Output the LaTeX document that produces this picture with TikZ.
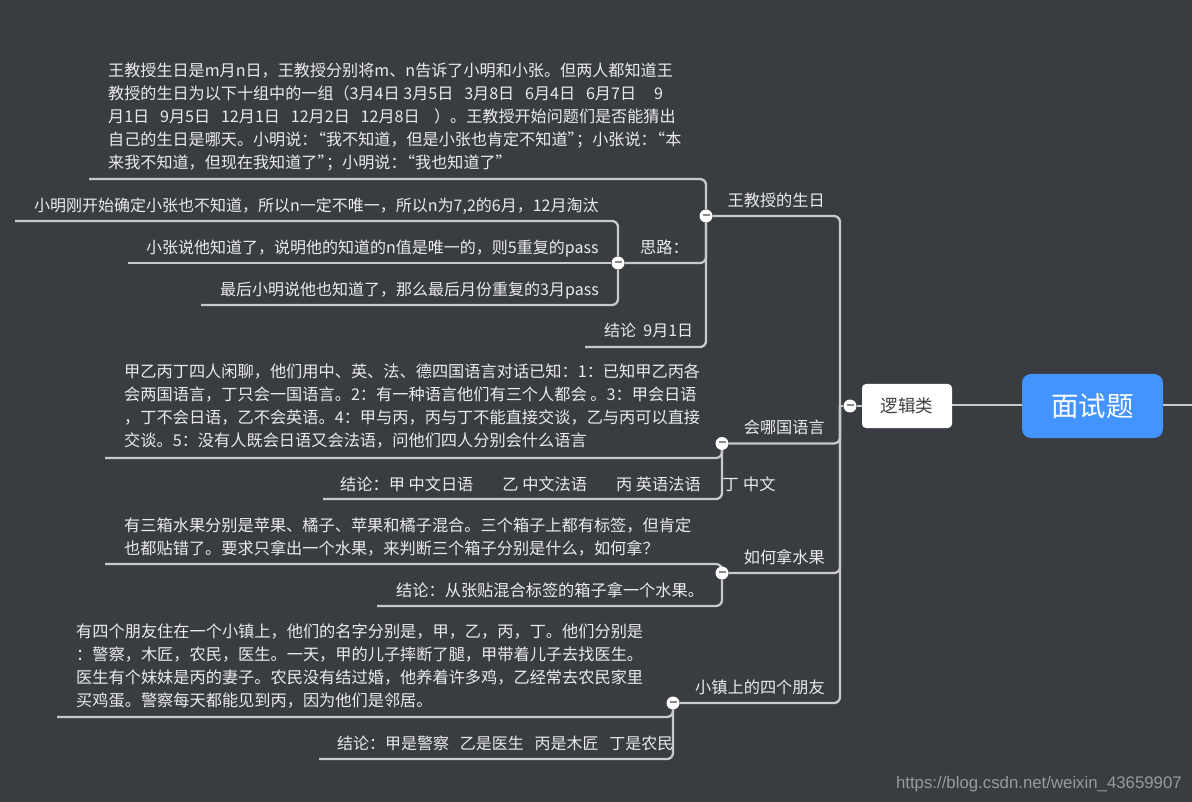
\documentclass[tikz,border=0pt]{standalone}
\usepackage{fontspec}
\usetikzlibrary{backgrounds}
\setmainfont{Noto Sans CJK SC}
\newfontfamily\wmfont{Liberation Sans}
\definecolor{bgc}{HTML}{393C41}
\definecolor{linec}{HTML}{C9C9C9}
\definecolor{txtc}{HTML}{EBEBEB}
\definecolor{bluec}{HTML}{4394FF}
\definecolor{barc}{HTML}{8A8A8A}
\definecolor{wmc}{HTML}{9A9A9A}
\tikzset{
  conn/.style={draw=linec,line width=2.3pt,rounded corners=6pt},
  lbl/.style={text=txtc,inner sep=0pt,font=\fontsize{16.2}{23}\selectfont,align=left},
  lbls/.style={lbl,font=\fontsize{16}{23}\selectfont},
  lblm/.style={lbl,font=\fontsize{16.1}{23}\selectfont},
  fold/.style={circle,fill=white,minimum size=13pt,inner sep=0pt},
  rootbox/.style={fill=bluec,rounded corners=9pt,minimum width=141pt,minimum height=64pt,text=white,inner sep=0pt,font=\fontsize{27.5}{30}\selectfont},
  catbox/.style={fill=white,rounded corners=4pt,minimum width=90pt,minimum height=44pt,text=black!75,inner sep=0pt,font=\fontsize{17.5}{18}\selectfont},
}
\newcommand{\foldbar}{\textcolor{barc}{\rule[2.4pt]{7pt}{2pt}}}
\newcommand{\oq}{\hspace{-7.5pt}“}
\newcommand{\cq}{”\hspace{-7.5pt}}
\begin{document}
\begin{tikzpicture}[x=1pt,y=-1pt]
\useasboundingbox (0,0) rectangle (1192,802);
% free ends and junctions
\coordinate (rootout) at (1192,405);
\coordinate (trunk) at (840,406);
\coordinate (a1) at (89,179);
\coordinate (s1) at (15,221);
\coordinate (s2) at (128,263);
\coordinate (s3) at (201,305);
\coordinate (a3) at (585,347);
\coordinate (b1) at (105,458);
\coordinate (b2) at (323,499);
\coordinate (c1) at (105,564);
\coordinate (c2) at (377,606);
\coordinate (d1) at (57,717);
\coordinate (d2) at (319,759);
% nodes
\node[rootbox] (root) at (1092.5,406) {面试题};
\node[catbox] (cat) at (907,406) {逻辑类};
\node[fold] (ncat) at (850,406) {\foldbar};
\node[fold] (na) at (706,216) {\foldbar};
\node[fold] (nb) at (722,443.5) {\foldbar};
\node[fold] (nc) at (722,573) {\foldbar};
\node[fold] (nd) at (673,703) {\foldbar};
\node[fold] (ns) at (618,263) {\foldbar};
% connectors
\begin{scope}[on background layer]
\fill[bgc] (0,0) rectangle (1192,802);
\draw[conn] (root.east |- rootout) -- (rootout);
\draw[conn] (cat.east |- rootout) -- (root.west |- rootout);
\draw[conn] (ncat) -- (cat);
\draw[conn] (trunk) -- (ncat);
\draw[conn] (trunk) |- (na);
\draw[conn] (trunk) |- (nb);
\draw[conn] (trunk) |- (nc);
\draw[conn] (trunk) |- (nd);
\draw[conn] (a1) -| (na);
\draw[conn] (ns) -| (na);
\draw[conn] (a3) -| (na);
\draw[conn] (s1) -| (ns);
\draw[conn] (s2) -- (ns);
\draw[conn] (s3) -| (ns);
\draw[conn] (b1) -| (nb);
\draw[conn] (b2) -| (nb);
\draw[conn] (c1) -| (nc);
\draw[conn] (c2) -| (nc);
\draw[conn] (d1) -| (nd);
\draw[conn] (d2) -| (nd);
\end{scope}
% texts
\node[lblm,anchor=south west] (ta) at (108,171) {王教授生日是m月n日，王教授分别将m、n告诉了小明和小张。但两人都知道王\\
教授的生日为以下十组中的一组（3月4日 3月5日~~~3月8日~~~6月4日~~~6月7日~~~~~9\\
月1日~~~9月5日~~~12月1日~~~12月2日~~~12月8日~~~~）。王教授开始问题们是否能猜出\\
自己的生日是哪天。小明说：\oq 我不知道，但是小张也肯定不知道\cq；小张说：\oq 本\\
来我不知道，但现在我知道了\cq；小明说：\oq 我也知道了\cq};
\node[lbls,anchor=base west] (ts1) at (34,212) {小明刚开始确定小张也不知道，所以n一定不唯一，所以n为7,2的6月，12月淘汰};
\node[lbls,anchor=base west] (ts2) at (146,254) {小张说他知道了，说明他的知道的n值是唯一的，则5重复的pass};
\node[lbls,anchor=base west] (ts3) at (220,296) {最后小明说他也知道了，那么最后月份重复的3月pass};
\node[lbl,anchor=base west] (ts) at (640,254) {思路：};
\node[lbls,anchor=base west] (ta3) at (604,337) {结论~~9月1日};
\node[lbl,anchor=base east] (la) at (825,207) {王教授的生日};
\node[lbl,anchor=south west] (tb) at (124,448) {甲乙丙丁四人闲聊，他们用中、英、法、德四国语言对话已知：1：已知甲乙丙各\\
会两国语言，丁只会一国语言。2：有一种语言他们有三个人都会 。3：甲会日语\\
，丁不会日语，乙不会英语。4：甲与丙，丙与丁不能直接交谈，乙与丙可以直接\\
交谈。5：没有人既会日语又会法语，问他们四人分别会什么语言};
\node[lbl,anchor=base west] (tb2) at (340,490) {结论：甲 中文日语~~~~~~~~乙 中文法语~~~~~~~~丙 英语法语~~~~~~丁\hspace{4.5pt}中文};
\node[lbl,anchor=base east] (lb) at (825,433) {会哪国语言};
\node[lbl,anchor=south west] (tc) at (124,556) {有三箱水果分别是苹果、橘子、苹果和橘子混合。三个箱子上都有标签，但肯定\\
也都贴错了。要求只拿出一个水果，来判断三个箱子分别是什么，如何拿？};
\node[lbl,anchor=base west] (tc2) at (396,596) {结论：从张贴混合标签的箱子拿一个水果。};
\node[lbl,anchor=base east] (lc) at (825,563) {如何拿水果};
\node[lbl,anchor=south west] (td) at (76,708) {有四个朋友住在一个小镇上，他们的名字分别是，甲，乙，丙，丁。他们分别是\\
：警察，木匠，农民，医生。一天，甲的儿子摔断了腿，甲带着儿子去找医生。\\
医生有个妹妹是丙的妻子。农民没有结过婚，他养着许多鸡，乙经常去农民家里\\
买鸡蛋。警察每天都能见到丙，因为他们是邻居。};
\node[lbls,anchor=base west] (td2) at (337,749) {结论：甲是警察~~~乙是医生~~~丙是木匠~~~丁是农民};
\node[lbl,anchor=base east] (ld) at (825,693) {小镇上的四个朋友};
\node[text=wmc,inner sep=0pt,anchor=base east,font=\wmfont\fontsize{16.8}{18}\selectfont] (wm) at (1182,788) {https://blog.csdn.net/weixin\_43659907};
\end{tikzpicture}
\end{document}
